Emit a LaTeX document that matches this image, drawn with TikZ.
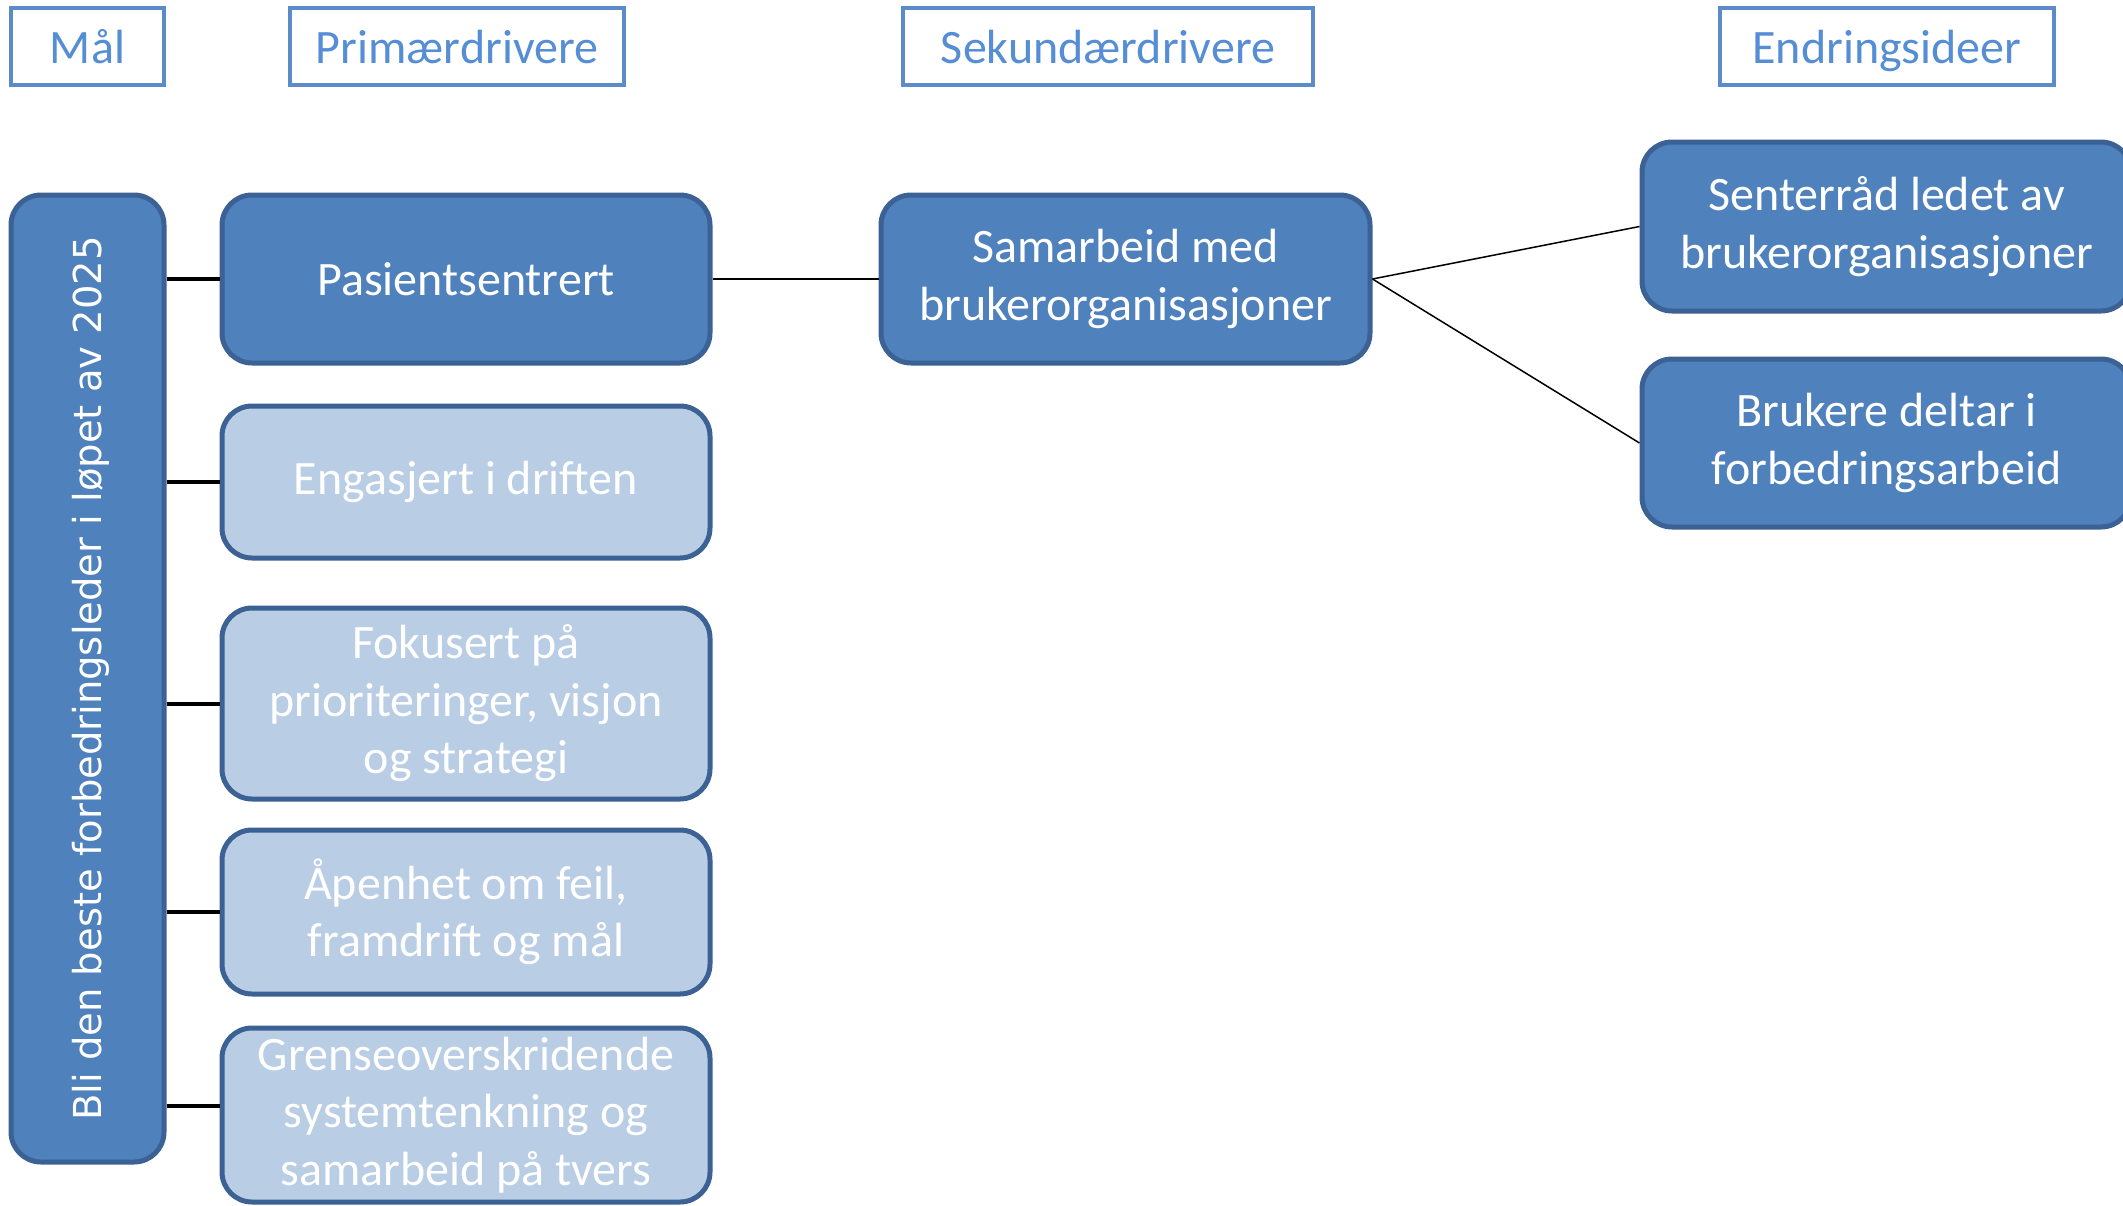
\documentclass[tikz,border=0pt]{standalone}
\usepackage{fontspec}
\setmainfont{Carlito}
\newfontfamily\vfont{DejaVu Sans}
\definecolor{darkfill}{HTML}{4F81BD}
\definecolor{darkline}{HTML}{3B6195}
\definecolor{lightfill}{HTML}{B9CDE5}
\definecolor{headtext}{HTML}{558ED5}
\definecolor{headline}{HTML}{5B8BC9}
\tikzset{
  headbox/.style={draw=headline, line width=4pt, fill=white, text=headtext,
    minimum height=77pt, inner sep=0pt, text height=38pt, text depth=4pt,
    font=\fontsize{48}{56}\selectfont},
  darkbox/.style={draw=darkline, line width=5pt, fill=darkfill, text=white,
    rounded corners=30pt, inner sep=0pt, align=center,
    font=\fontsize{48}{57.5}\selectfont},
  lightbox/.style={darkbox, fill=lightfill},
  thickcon/.style={line width=4pt, black},
  thincon/.style={line width=1.5pt, black},
}
\begin{document}
\begin{tikzpicture}[x=1pt,y=-1pt]
\useasboundingbox (0,0) rectangle (2123,1205);
\clip (0,0) rectangle (2123,1205);
\fill[white] (0,0) rectangle (2123,1205);
% headers
\node[headbox, minimum width=153pt] (hmal) at (87.5,46.5) {Mål};
\node[headbox, minimum width=334pt] (hprim) at (457,46.5) {Primærdrivere};
\node[headbox, minimum width=410pt] (hsek) at (1108,46.5) {Sekundærdrivere};
\node[headbox, minimum width=334pt] (hendr) at (1887,46.5) {Endringsideer};
% goal
\node[darkbox, minimum width=153pt, minimum height=967pt] (goal) at (87.5,678.5) {};
\node[text=white, rotate=90, font=\vfont\fontsize{38.5}{44}\selectfont] (goaltext) at ([xshift=3pt]goal.center) {Bli den beste forbedringsleder i løpet av 2025};
% primary drivers
\node[darkbox, minimum width=488pt, minimum height=168pt] (p1) at (466,279) {Pasientsentrert};
\node[lightbox, minimum width=488pt, minimum height=152pt] (p2) at (466,482) {Engasjert i driften};
\node[lightbox, minimum width=488pt, minimum height=191pt] (p3) at (466,703.5) {Fokusert på\\prioriteringer, visjon\\og strategi};
\node[lightbox, minimum width=488pt, minimum height=164pt] (p4) at (466,912) {Åpenhet om feil,\\framdrift og mål};
\node[lightbox, minimum width=488pt, minimum height=174pt] (p5) at (466,1115) {Grenseoverskridende\\systemtenkning og\\samarbeid på tvers};
% secondary
\node[darkbox, minimum width=489pt, minimum height=168pt] (s1) at (1125.5,279) {Samarbeid med\\brukerorganisasjoner};
% change ideas
\node[darkbox, minimum width=489pt, minimum height=169pt] (e1) at (1886.5,226.5) {Senterråd ledet av\\brukerorganisasjoner};
\node[darkbox, minimum width=489pt, minimum height=168pt] (e2) at (1886.5,443) {Brukere deltar i\\forbedringsarbeid};
% connectors
\draw[thickcon] (goal.east |- p1.west) -- (p1.west);
\draw[thickcon] (goal.east |- p2.west) -- (p2.west);
\draw[thickcon] (goal.east |- p3.west) -- (p3.west);
\draw[thickcon] (goal.east |- p4.west) -- (p4.west);
\draw[thickcon] ([yshift=9pt]goal.east |- p5.west) -- ([yshift=9pt]p5.west);
\draw[thincon] (p1.east) -- (s1.west);
\draw[thincon] (s1.east) -- (e1.west);
\draw[thincon] (s1.east) -- (e2.west);
\end{tikzpicture}
\end{document}
